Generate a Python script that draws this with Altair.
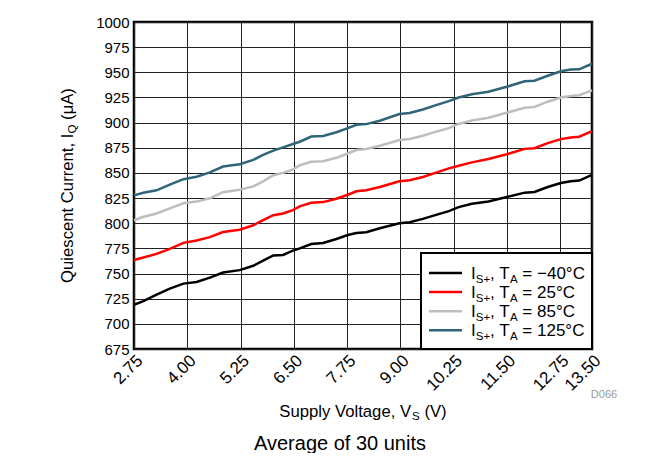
import altair as alt
import pandas as pd

# ---------------- data ----------------
volts = [2.75, 2.97, 3.28, 3.59, 3.91, 4.22, 4.53, 4.84, 5.23, 5.55, 5.78, 6.02, 6.25, 6.48,
         6.64, 6.91, 7.19, 7.50, 7.77, 7.97, 8.20, 8.52, 8.98, 9.22, 9.53, 9.84, 10.14,
         10.37, 10.68, 11.07, 11.50, 11.92, 12.15, 12.46, 12.77, 13.00, 13.20, 13.50]

iq_m40 = [719, 722.5, 729, 735, 740, 741.6, 746, 751, 753.4, 757.7, 762.8, 768, 768.5, 772.8,
          775, 779.3, 780.3, 784.3, 788.3, 790.3, 791, 795, 800, 801, 804.3, 808.3, 812,
          816, 819.3, 821.6, 826, 830.4, 831, 836, 840, 841.8, 842.4, 848]
iq_25 = [763.5, 766, 769.5, 774.5, 780.5, 782.9, 786.2, 791.3, 793.6, 798, 803, 808, 809.7, 813,
         816.7, 820.3, 821, 824.3, 828.3, 831.7, 832.7, 836, 841.7, 842.7, 846, 850.3, 854.5,
         857.2, 860.5, 863.9, 868.6, 873.9, 874.6, 879.6, 883.6, 885.3, 886, 891.5]
iq_85 = [803, 806.4, 809.7, 814.8, 819.8, 821.5, 824.8, 830.9, 833.2, 836.6, 841.6, 847.7, 850, 853.4,
         857.7, 861, 861.7, 865, 869.3, 872.7, 873.7, 877, 882.7, 883.7, 887, 891, 894.5,
         898.7, 902.1, 904.8, 909.8, 914.8, 915.5, 920.8, 924.9, 926.5, 927.2, 932]
iq_125 = [827.7, 830.3, 832.7, 838.4, 843.8, 846.2, 850.5, 856.3, 858.6, 863, 868, 872.1, 875.4, 878.8,
          881, 886.1, 886.7, 890.4, 894.5, 897.8, 898.5, 901.9, 908.6, 909.6, 913, 917.4, 921.4,
          924.9, 928.2, 930.6, 935.6, 941, 941.6, 946.6, 951, 952.7, 953, 958.5]

series_temps = ["\u221240\u00b0C", "25\u00b0C", "85\u00b0C", "125\u00b0C"]
series_colors = ["#000000", "#FF0000", "#BEBEBE", "#2F6479"]
x_ticks = [2.75, 4.00, 5.25, 6.50, 7.75, 9.00, 10.25, 11.50, 12.75, 13.50]
y_ticks = [675, 700, 725, 750, 775, 800, 825, 850, 875, 900, 925, 950, 975, 1000]

x_title = ["Supply Voltage, V", "S", " (V)"]
y_title = ["Quiescent Current, I", "Q", " (\u03bcA)"]
caption = "Average of 30 units"
fig_id = "D066"

# ---------------- build table ----------------
rows = []
for temp, vals in zip(series_temps, [iq_m40, iq_25, iq_85, iq_125]):
    for v, i in zip(volts, vals):
        rows.append({"V": v, "IQ": i, "T": temp})
df = pd.DataFrame(rows)

W, H = 458, 327
FONT = "Liberation Sans"

# Arial/Liberation Sans advance widths (per 1000 em)
AW = {" ": 278, "(": 333, ")": 333, "+": 584, ",": 278, "-": 333, "\u2212": 584, ".": 278,
      "=": 584, "\u00b0": 400, "A": 667, "C": 722, "I": 278, "Q": 778, "S": 667, "T": 611,
      "V": 667, "a": 556, "c": 500, "e": 556, "g": 556, "i": 222, "l": 222, "n": 556,
      "o": 556, "p": 556, "r": 333, "s": 500, "t": 278, "u": 556, "y": 500, "\u03bc": 576}


def tw(s, size):
    return sum(AW.get(c, 556) for c in s) * size / 1000.0


one = pd.DataFrame({"k": [0]})


def text_piece(txt, x, y, size, angle=0, color="#000000", align="left", baseline="alphabetic"):
    return alt.Chart(one).mark_text(
        text=txt, font=FONT, fontSize=size, color=color, align=align,
        baseline=baseline, angle=angle
    ).encode(x=alt.value(x), y=alt.value(y))


def rich(pieces, x0, y0, angle=0):
    """pieces: (text, size, shift). Leading/trailing spaces become advances."""
    out = []
    pos = 0.0
    for txt, sz, sh in pieces:
        lead = len(txt) - len(txt.lstrip(" "))
        pos += lead * AW[" "] * sz / 1000.0
        core = txt.strip(" ")
        if angle == 0:
            out.append(text_piece(core, x0 + pos, y0 + sh, sz))
        else:  # 270: text runs upward, "down" is +x
            out.append(text_piece(core, x0 + sh, y0 - pos, sz, angle=270))
        pos += tw(core, sz)
        trail = len(txt) - len(txt.rstrip(" "))
        pos += trail * AW[" "] * sz / 1000.0
    return out, pos


layers = []

base = alt.Chart(df).mark_line(strokeWidth=2.5).encode(
    x=alt.X("V:Q", scale=alt.Scale(domain=[2.75, 13.5], nice=False, zero=False),
            axis=alt.Axis(values=x_ticks, format=".2f", labelAngle=-45, labelAlign="right",
                          labelBaseline="top", labelPadding=3, labelFontSize=17, title=None,
                          labelOverlap=False, labelFlush=False, labelBound=False)),
    y=alt.Y("IQ:Q", scale=alt.Scale(domain=[675, 1000], nice=False, zero=False),
            axis=alt.Axis(values=y_ticks, format="d", title=None, labelPadding=5,
                          labelOverlap=False, labelFlush=False)),
    color=alt.Color("T:N", scale=alt.Scale(domain=series_temps, range=series_colors), legend=None),
)
layers.append(base)

# legend box
leg_x0, leg_y0 = 287, 231
layers.append(alt.Chart(one).mark_rect(fill="white", stroke="black", strokeWidth=2).encode(
    x=alt.value(leg_x0), x2=alt.value(W), y=alt.value(leg_y0), y2=alt.value(H)))

MS, SS = 17, 11.5
for i, (temp, col) in enumerate(zip(series_temps, series_colors)):
    yc = 251 + 19.1 * i
    layers.append(alt.Chart(one).mark_rule(strokeWidth=2.5, color=col).encode(
        x=alt.value(295), x2=alt.value(328), y=alt.value(yc)))
    bl = yc + 0.716 * MS / 2
    pieces = [("I", MS, 0), ("S+", SS, 3.5), (", T", MS, 0), ("A", SS, 3.5),
              (" = " + temp, MS, 0)]
    lay, _ = rich(pieces, 337, bl)
    layers += lay

# x axis title with subscript
XS, XSS = 16.7, 11.5
xt_pieces = [(x_title[0], XS, 0), (x_title[1], XSS, 3.5), (x_title[2], XS, 0)]
xt_w = tw(x_title[0], XS) + tw(x_title[1], XSS) + tw(x_title[2], XS)
lay, _ = rich(xt_pieces, W / 2 - xt_w / 2, 389 + 0.716 * XS / 2)
layers += lay

# y axis title (rotated) with subscript
yt_pieces = [(y_title[0], XS, 0), (y_title[1], XSS, 3.5), (y_title[2], XS, 0)]
yt_w = tw(y_title[0], XS) + tw(y_title[1], XSS) + tw(y_title[2], XS)
lay, _ = rich(yt_pieces, -67 + 0.716 * XS / 2, H / 2 + yt_w / 2, angle=270)
layers += lay

# figure id and caption
layers.append(text_piece(fig_id, 470, 373, 11, color="#9A9A9A", align="center", baseline="middle"))
layers.append(text_piece(caption, 206, 422, 20, align="center", baseline="middle"))

chart = alt.layer(*layers).properties(
    width=W, height=H,
    autosize=alt.AutoSizeParams(type="none"),
    padding={"left": 126, "top": 14, "right": 55, "bottom": 104},
    background="white",
).configure_view(
    stroke="black", strokeWidth=2.5
).configure_axis(
    grid=True, gridColor="#222222", gridWidth=1, gridOpacity=1,
    domain=False, ticks=False,
    labelFont=FONT, labelFontSize=15, labelColor="black",
)

chart.save("out.html", embed_options={"renderer": "svg", "actions": False})
